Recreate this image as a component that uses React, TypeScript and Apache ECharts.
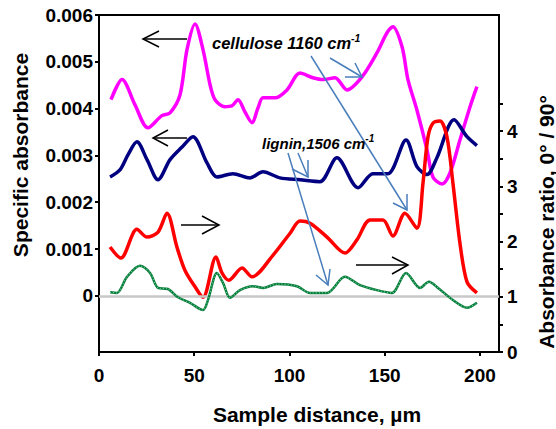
import React, { useEffect, useRef } from "react";
import * as echarts from "echarts";

// ---- Data ----
// Cellulose 1160 cm-1, specific absorbance (left axis)
const celluloseAbsX = [6.3, 12.1, 18.9, 25.7, 33, 37.3, 42.5, 46.2, 50.4, 54.6, 58.3, 60.9, 66.1, 69.8, 73, 76.6, 80.3, 83.5, 86.1, 92.4, 98.7, 105.5, 112.3, 117.6, 123.9, 130.2, 138.1, 145.9, 151.2, 154.3, 159.1, 162.2, 166.9, 172.2, 175.3, 180.1, 184.3, 189.5, 194.8, 198.4];
const celluloseAbsY = [0.00419, 0.00462, 0.00408, 0.00359, 0.00385, 0.00391, 0.00429, 0.00526, 0.00581, 0.00526, 0.00451, 0.00419, 0.00404, 0.00406, 0.00419, 0.00393, 0.0037, 0.00402, 0.00423, 0.00423, 0.0044, 0.00476, 0.00466, 0.00462, 0.00466, 0.0044, 0.00468, 0.00519, 0.00562, 0.00575, 0.00532, 0.00462, 0.00397, 0.00312, 0.00254, 0.00239, 0.00263, 0.00333, 0.00404, 0.00447];

// Lignin 1506 cm-1, specific absorbance (left axis)
const ligninAbsX = [5.8, 11, 15.2, 19.9, 25.2, 31, 37.3, 43.6, 49.3, 56.7, 61.9, 70.3, 79.3, 86.1, 95, 105.5, 116, 124.9, 136, 143.8, 151.7, 161.2, 166.9, 172.2, 177.4, 186.4, 193.2, 198.4];
const ligninAbsY = [0.00254, 0.00269, 0.00301, 0.00329, 0.00291, 0.00248, 0.00291, 0.00318, 0.0034, 0.00284, 0.00254, 0.00261, 0.00252, 0.00265, 0.00252, 0.00248, 0.00244, 0.00295, 0.00231, 0.00261, 0.00261, 0.00333, 0.00276, 0.00259, 0.00295, 0.00376, 0.0034, 0.00321];

// Cellulose absorbance ratio 0°/90° (right axis)
const celluloseRatioX = [5.8, 11.5, 19.9, 25.2, 31, 35.7, 40.9, 45.1, 50.4, 54.6, 61.4, 64.6, 68.2, 75.1, 80.3, 91.3, 100.3, 105.5, 110.8, 119.7, 129.1, 135.4, 142.3, 149.1, 154.3, 160.6, 166.9, 170.1, 172.7, 175.3, 179, 182.7, 185.8, 189.5, 193.2, 198.4];
const celluloseRatioY = [1.9, 1.7, 2.22, 2.08, 2.17, 2.51, 1.9, 1.48, 1.18, 0.99, 1.72, 1.43, 1.3, 1.52, 1.36, 1.75, 2.15, 2.37, 2.33, 2.08, 1.79, 2.03, 2.39, 2.39, 2.1, 2.51, 2.24, 3.06, 3.89, 4.14, 4.18, 3.89, 3.06, 1.97, 1.27, 1.07];

// Lignin absorbance ratio 0°/90° (right axis)
const ligninRatioX = [5.8, 9.4, 14.7, 21.5, 26.8, 31, 36.2, 41.5, 47.8, 54.6, 57.2, 61.9, 65.1, 68.8, 74, 80.8, 86.1, 93.4, 103.9, 110.8, 119.7, 129.1, 137, 145.9, 153.8, 161.2, 168.5, 173.2, 178, 185.8, 193.2, 198.4];
const ligninRatioY = [1.08, 1.07, 1.36, 1.56, 1.43, 1.16, 1.14, 0.99, 0.89, 0.76, 0.94, 1.43, 1.25, 0.98, 1.12, 1.19, 1.16, 1.23, 1.19, 1.07, 1.07, 1.36, 1.21, 1.12, 1.07, 1.43, 1.16, 1.27, 1.16, 0.94, 0.8, 0.89];

// Tick values
const xTicks = [0, 50, 100, 150, 200];
const leftLabels = [0, 0.001, 0.002, 0.003, 0.004, 0.005, 0.006];
const rightLabels = [0, 1, 2, 3, 4];
const rightTicks = [0, 0.5, 1, 1.5, 2, 2.5, 3, 3.5, 4, 4.5];

const FONT = "'Liberation Sans', Arial, Helvetica, sans-serif";

const zip = (xs: number[], ys: number[]) => xs.map((x, i) => [x, ys[i]]);

export default function App() {
  const ref = useRef<HTMLDivElement>(null);

  useEffect(() => {
    if (!ref.current) return;
    const chart = echarts.init(ref.current, undefined, { renderer: "svg" });

    const tickLabel = {
      fontSize: 19,
      fontWeight: "bold" as const,
      color: "#000",
      fontFamily: FONT,
    };
    const axisLine = { show: true, onZero: false, lineStyle: { color: "#000", width: 2 } };

    const blue = "#4a7ebb";
    const line = (points: number[][], stroke: string, lw = 1.5) => ({
      type: "polyline",
      silent: true,
      shape: { points },
      style: { stroke, lineWidth: lw, fill: null },
      z: 100,
    });

    const annText = (size: number) => ({
      fontSize: size,
      fontWeight: "bold",
      fontStyle: "italic",
      fontFamily: FONT,
      fill: "#000",
    });

    const option: any = {
      animation: false,
      backgroundColor: "#ffffff",
      grid: {
        left: 99,
        right: 57,
        top: 15,
        bottom: 77,
        show: true,
        borderColor: "#000",
        borderWidth: 2,
        containLabel: false,
      },
      xAxis: {
        type: "value",
        min: 0,
        max: 210,
        interval: 50,
        axisLine,
        axisTick: { show: true, length: 4, lineStyle: { color: "#000", width: 2 }, customValues: xTicks },
        axisLabel: { ...tickLabel, margin: 14, customValues: xTicks },
        splitLine: { show: false },
      },
      yAxis: [
        {
          type: "value",
          position: "left",
          min: -0.0012,
          max: 0.006,
          axisLine,
          axisTick: { show: true, length: 4, lineStyle: { color: "#000", width: 2 }, customValues: leftLabels },
          axisLabel: {
            ...tickLabel,
            margin: 6,
            customValues: leftLabels,
            formatter: (v: number) => (v === 0 ? "0" : v.toFixed(3)),
          },
          splitLine: { show: false },
        },
        {
          type: "value",
          position: "right",
          min: 0,
          max: 6.1,
          axisLine,
          axisTick: { show: true, length: 4, lineStyle: { color: "#000", width: 2 }, customValues: rightTicks },
          axisLabel: { ...tickLabel, margin: 8, customValues: rightLabels },
          splitLine: { show: false },
        },
      ],
      series: [
        {
          type: "line",
          name: "cellulose specific absorbance",
          yAxisIndex: 0,
          data: zip(celluloseAbsX, celluloseAbsY),
          showSymbol: false,
          smooth: 0.3,
          lineStyle: { color: "#ff00ff", width: 3.5 },
          markLine: {
            silent: true,
            symbol: "none",
            label: { show: false },
            lineStyle: { color: "#c8c8c8", width: 2.5, type: "solid" },
            data: [{ yAxis: 0 }],
          },
          z: 2,
        },
        {
          type: "line",
          name: "lignin specific absorbance",
          yAxisIndex: 0,
          data: zip(ligninAbsX, ligninAbsY),
          showSymbol: false,
          smooth: 0.3,
          lineStyle: { color: "#000080", width: 3.5 },
          z: 3,
        },
        {
          type: "line",
          name: "cellulose ratio",
          yAxisIndex: 1,
          data: zip(celluloseRatioX, celluloseRatioY),
          showSymbol: false,
          smooth: 0.3,
          lineStyle: { color: "#ff0000", width: 3.5 },
          z: 4,
        },
        {
          type: "line",
          name: "lignin ratio",
          yAxisIndex: 1,
          data: zip(ligninRatioX, ligninRatioY),
          showSymbol: false,
          smooth: 0.3,
          lineStyle: { color: "#0b7a3e", width: 2.5 },
          z: 5,
        },
        {
          type: "line",
          name: "lignin ratio dots",
          yAxisIndex: 1,
          data: zip(ligninRatioX, ligninRatioY),
          showSymbol: false,
          smooth: 0.3,
          lineStyle: { color: "#5fd98a", width: 1.2, type: [1, 2] },
          z: 6,
        },
      ],
      graphic: [
        // black direction arrows
        line([[143, 39], [187, 39]], "#000"),
        line([[159, 31], [143, 39], [159, 47]], "#000"),
        line([[153, 138], [187, 138]], "#000"),
        line([[168, 130], [153, 138], [168, 146]], "#000"),
        line([[181, 225], [219, 225]], "#000"),
        line([[202, 216], [219, 225], [202, 234]], "#000"),
        line([[356, 265], [408, 265]], "#000"),
        line([[392, 257], [408, 265], [392, 274]], "#000"),
        // blue pointer arrows
        line([[330, 58], [362, 77]], blue),
        line([[345, 77], [362, 77], [355, 63]], blue),
        line([[311, 56], [407, 210]], blue),
        line([[393, 203], [407, 210], [407, 194]], blue),
        line([[288, 153], [328, 285]], blue),
        line([[316, 275], [328, 285], [330, 269]], blue),
        line([[298, 153], [308, 177]], blue),
        line([[292, 169], [308, 177], [308, 160]], blue),
        // annotation texts
        {
          type: "text",
          x: 212,
          y: 43,
          z: 101,
          style: {
            text: "{a|cellulose 1160 cm}{s|-1}",
            verticalAlign: "middle",
            rich: {
              a: annText(16.5),
              s: { ...annText(10.5), verticalAlign: "top", padding: [0, 0, 10, 0] },
            },
          },
        },
        {
          type: "text",
          x: 262,
          y: 143,
          z: 101,
          style: {
            text: "{a|lignin,1506 cm}{s|-1}",
            verticalAlign: "middle",
            rich: {
              a: annText(15),
              s: { ...annText(10), verticalAlign: "top", padding: [0, 0, 10, 0] },
            },
          },
        },
        // axis titles
        {
          type: "text",
          x: 20,
          y: 155,
          rotation: Math.PI / 2,
          style: {
            text: "Specific absorbance",
            align: "center",
            verticalAlign: "middle",
            fontSize: 21,
            fontWeight: "bold",
            fontFamily: FONT,
            fill: "#000",
          },
        },
        {
          type: "text",
          x: 546,
          y: 222,
          rotation: Math.PI / 2,
          style: {
            text: "Absorbance ratio, 0° / 90°",
            align: "center",
            verticalAlign: "middle",
            fontSize: 21,
            fontWeight: "bold",
            fontFamily: FONT,
            fill: "#000",
          },
        },
        {
          type: "text",
          x: 317,
          y: 414,
          style: {
            text: "Sample distance, µm",
            align: "center",
            verticalAlign: "middle",
            fontSize: 21,
            fontWeight: "bold",
            fontFamily: FONT,
            fill: "#000",
          },
        },
      ],
    };

    chart.setOption(option);
    return () => chart.dispose();
  }, []);

  return (
    <div
      ref={ref}
      style={{ position: "absolute", left: 0, top: 0, width: 556, height: 429, background: "#fff" }}
    />
  );
}
